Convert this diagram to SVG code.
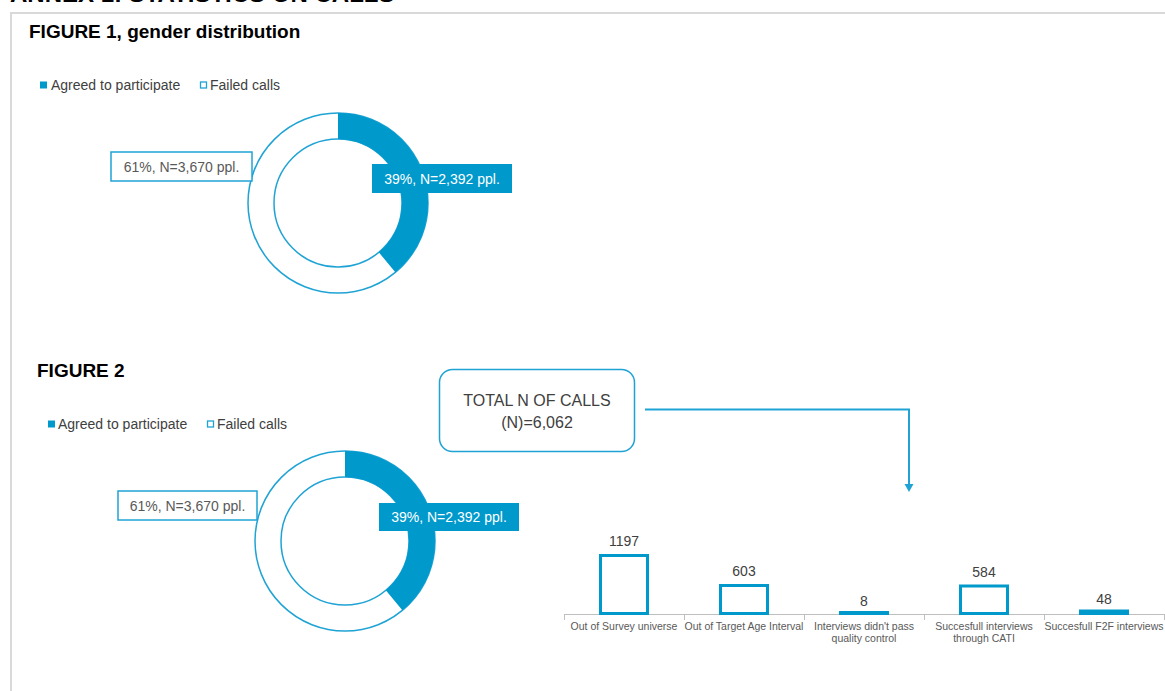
<svg xmlns="http://www.w3.org/2000/svg" width="1165" height="691" viewBox="0 0 1165 691">
<style>
text{font-family:"Liberation Sans",Arial,sans-serif}
.title{font-weight:bold;fill:#000}
.leg{font-size:14px;fill:#404040}
.ring{fill:none;stroke:#1fa3d5;stroke-width:1.5}
.seg{fill:#0099cc}
.lblw{fill:#fff;stroke:#1fa3d5;stroke-width:1.5}
.lblb{fill:#0099cc}
.lt{font-size:14px;text-anchor:middle}
.bar{fill:#fff;stroke:#0099cc;stroke-width:3}
.val{font-size:14px;fill:#404040;text-anchor:middle}
.cat{font-size:10.5px;fill:#595959;text-anchor:middle}
.axis{stroke:#bfbfbf;stroke-width:1;fill:none}
.conn{stroke:#1fa3d5;stroke-width:2;fill:none}
</style>
<rect width="1165" height="691" fill="#fff"/>
<text class="title" x="10" y="2" font-size="24">ANNEX 1: STATISTICS ON CALLS</text>
<path d="M11,691 V13 H1165" fill="none" stroke="#d9d9d9" stroke-width="2"/>

<g id="figure1">
<text class="title" x="29" y="38" font-size="19">FIGURE 1, gender distribution</text>
<g id="legend1">
<rect x="40" y="81.5" width="7" height="7" fill="#0099cc"/>
<text class="leg" x="51" y="90">Agreed to participate</text>
<rect x="200.5" y="82" width="6" height="6" fill="#fff" stroke="#1fa3d5" stroke-width="1.3"/>
<text class="leg" x="210" y="90">Failed calls</text>
</g>
<g id="donut1">
<circle class="ring" cx="338" cy="203" r="90"/>
<circle class="ring" cx="338" cy="203" r="64"/>
<path class="seg" d="M338,113 A90,90 0 0,1 395.37,272.35 L378.79,252.31 A64,64 0 0,0 338,139 Z"/>
</g>
<g id="label1-failed">
<rect class="lblw" x="111" y="152" width="141" height="29"/>
<text class="lt" x="181.5" y="171.5" fill="#595959">61%, N=3,670 ppl.</text>
</g>
<g id="label1-agreed">
<rect class="lblb" x="372" y="164" width="140" height="29"/>
<text class="lt" x="442" y="183.5" fill="#fff">39%, N=2,392 ppl.</text>
</g>
</g>

<g id="figure2">
<text class="title" x="37" y="377" font-size="19">FIGURE 2</text>
<g id="legend2">
<rect x="48" y="420.5" width="7" height="7" fill="#0099cc"/>
<text class="leg" x="58" y="429">Agreed to participate</text>
<rect x="207.5" y="421" width="6" height="6" fill="#fff" stroke="#1fa3d5" stroke-width="1.3"/>
<text class="leg" x="217" y="429">Failed calls</text>
</g>
<g id="donut2">
<circle class="ring" cx="345" cy="541" r="90"/>
<circle class="ring" cx="345" cy="541" r="64"/>
<path class="seg" d="M345,451 A90,90 0 0,1 402.37,610.35 L385.79,590.31 A64,64 0 0,0 345,477 Z"/>
</g>
<g id="label2-failed">
<rect class="lblw" x="118" y="491" width="139" height="29"/>
<text class="lt" x="187.5" y="510.5" fill="#595959">61%, N=3,670 ppl.</text>
</g>
<g id="label2-agreed">
<rect class="lblb" x="379" y="503" width="140" height="28"/>
<text class="lt" x="449" y="522" fill="#fff">39%, N=2,392 ppl.</text>
</g>
</g>

<g id="total">
<rect x="439.5" y="369.5" width="195" height="82" rx="13" ry="13" fill="#fff" stroke="#1fa3d5" stroke-width="1.5"/>
<text x="537" y="406" font-size="16" fill="#404040" text-anchor="middle">TOTAL N OF CALLS</text>
<text x="537" y="428" font-size="16" fill="#404040" text-anchor="middle">(N)=6,062</text>
</g>

<g id="connectors">
<path class="conn" d="M645,409.5 H909 V486"/>
<path d="M904.5,484 L913.5,484 L909,492 Z" fill="#1fa3d5"/>
</g>

<g id="barchart">
<path class="axis" d="M564,614.5 H1165 M564.5,614 V620 M684.5,614 V620 M804.5,614 V620 M924.5,614 V620 M1044.5,614 V620 M1164.5,614 V620"/>
<g id="bar1">
<rect class="bar" x="600.5" y="555.5" width="47" height="58"/>
<text class="val" x="624" y="546">1197</text>
<text class="cat" x="624" y="630">Out of Survey universe</text>
</g>
<g id="bar2">
<rect class="bar" x="720.5" y="585.5" width="47" height="28"/>
<text class="val" x="744" y="576">603</text>
<text class="cat" x="744" y="630">Out of Target Age Interval</text>
</g>
<g id="bar3">
<rect class="bar" x="840.5" y="612.5" width="47" height="1"/>
<text class="val" x="864" y="606">8</text>
<text class="cat" x="864" y="630">Interviews didn't pass</text>
<text class="cat" x="864" y="642">quality control</text>
</g>
<g id="bar4">
<rect class="bar" x="960.5" y="586" width="47" height="27.5"/>
<text class="val" x="984" y="577">584</text>
<text class="cat" x="984" y="630">Succesfull interviews</text>
<text class="cat" x="984" y="642">through CATI</text>
</g>
<g id="bar5">
<rect class="bar" x="1080.5" y="611" width="47" height="2.5"/>
<text class="val" x="1104" y="604">48</text>
<text class="cat" x="1104" y="630">Succesfull F2F interviews</text>
</g>
</g>
</svg>
